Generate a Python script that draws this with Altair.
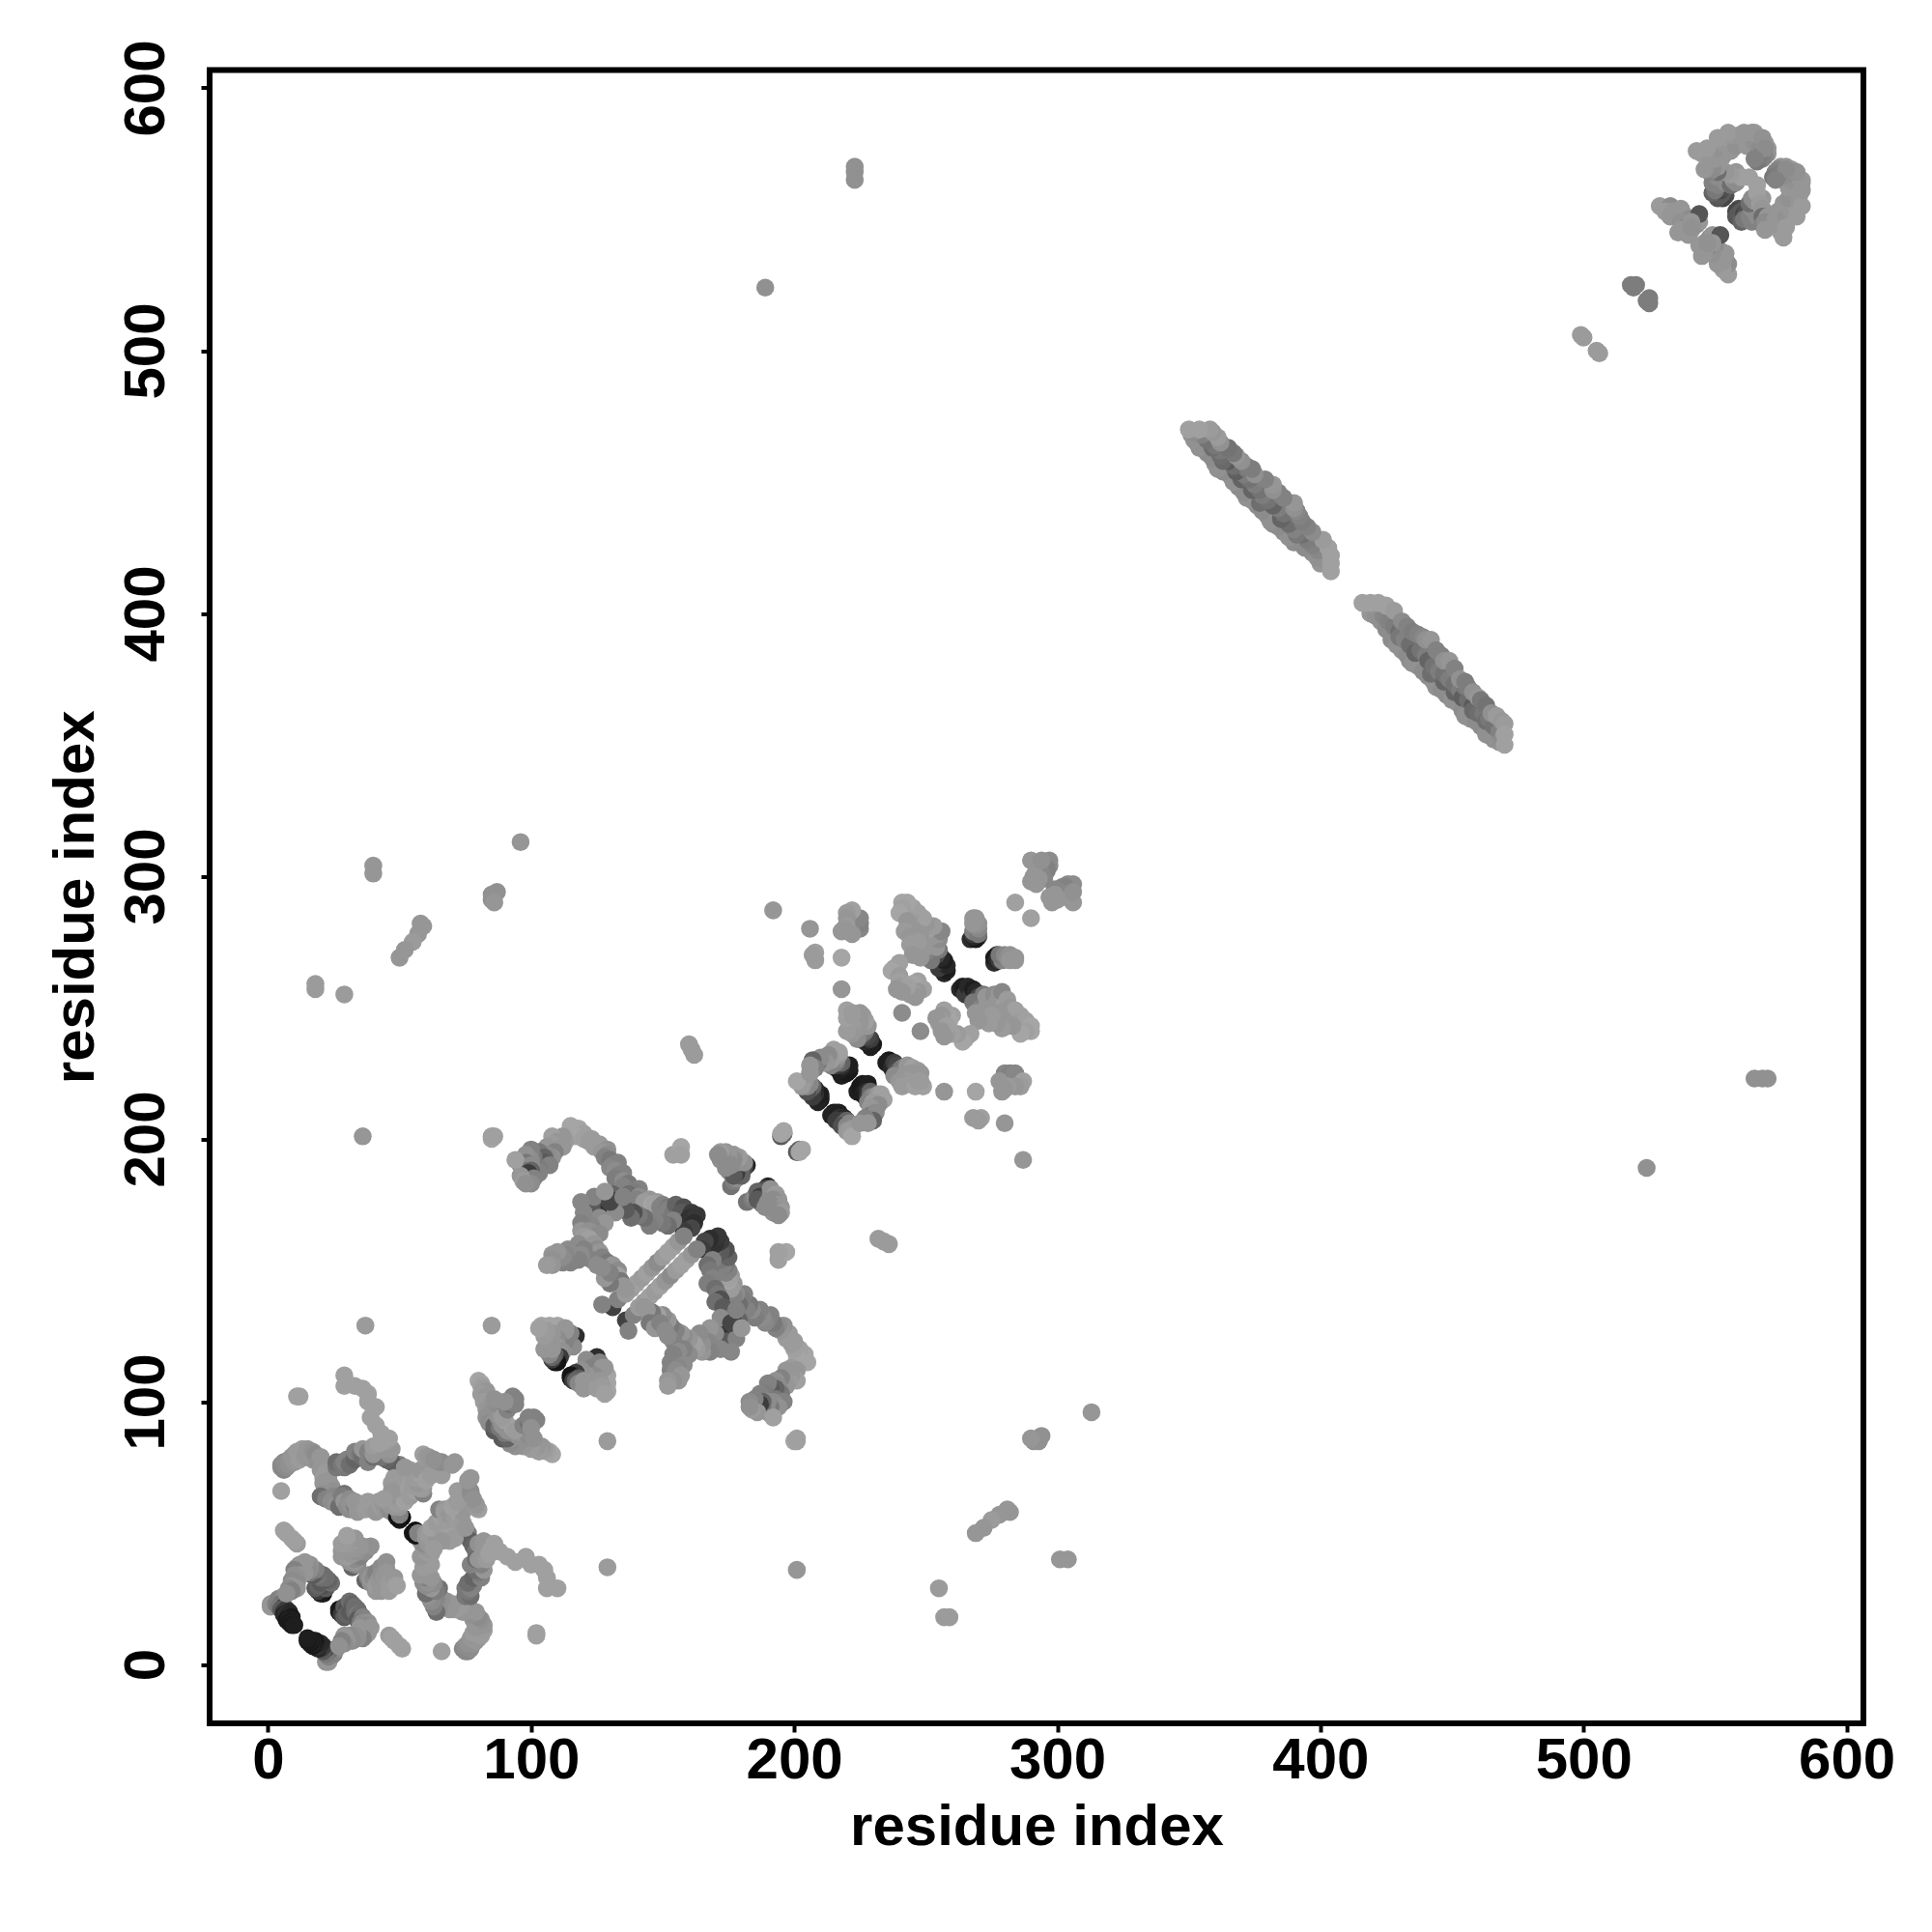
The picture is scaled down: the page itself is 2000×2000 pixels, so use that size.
import altair as alt
import pandas as pd

# contacts (residue i, residue j, gray level), i > j; the map is symmetric
corner_a = [(22,1,150),(23,1,150),(24,3,145),(23,2,150),(25,4,130),(26,6,140),(24,5,140),(23,3,130),(23,5,110),(22,4,120),(22,6,70),(21,5,90),(21,7,60),(20,6,60),(20,8,40),(19,6,40),(19,7,50),(19,8,40),(18,8,40),(18,9,25),(17,7,25),(17,8,35),(17,9,30),(16,8,25),(16,9,30),(15,9,25),(15,10,30)]
block_a2 = [(27,21,20),(27,20,30),(28,21,25),(29,20,30),(28,19,60),(29,18,90),(29,22,90),(30,21,80),(30,19,100),(31,20,90),(31,24,110),(32,23,100),(32,21,90),(33,22,110),(34,21,110),(33,20,110),(34,19,120),(35,19,110),(34,17,90),(36,18,130),(35,16,120),(36,16,140),(38,16,145),(36,14,150),(37,15,140),(39,14,150),(35,14,150),(37,13,150),(38,12,150),(37,11,150),(36,10,130),(34,12,150),(34,10,145),(33,11,145),(32,9,140),(31,11,140),(30,9,150),(29,11,150),(29,8,140),(28,9,130),(27,7,145)]
block_a3 = [(37,32,100),(38,33,130),(38,34,140),(39,31,145),(39,33,150),(40,33,140),(41,35,130),(41,28,150),(41,30,155),(42,32,150),(43,37,140),(43,30,150),(43,28,150),(43,34,145),(44,31,150),(44,33,150),(45,39,145),(45,36,145),(45,35,150),(46,31,155),(46,28,155),(46,34,150),(47,32,155),(48,33,150),(48,30,155),(49,30,160),(46,11,155),(47,10,160),(48,9,160),(50,7,160),(51,6,160),(66,5,160),(102,11,160),(102,12,160)]
ring_a = [(75,5,140),(74,6,135),(76,5,135),(75,7,140),(77,6,140),(77,7,140),(76,8,145),(78,8,145),(79,9,150),(77,10,150),(80,10,150),(78,12,155),(81,11,155),(82,13,155),(79,14,150),(82,15,150),(80,15,150),(81,17,145),(78,17,150),(80,18,140),(77,19,145),(79,20,150),(74,20,150),(77,21,150),(75,22,150),(73,22,155),(72,23,155),(71,21,155),(70,23,150),(69,21,150),(67,22,150),(68,24,150),(66,25,145),(65,21,145),(64,20,110),(63,22,130),(64,25,135),(62,24,140),(63,27,140),(61,26,145),(60,27,110),(65,29,115),(64,28,125),(62,29,150),(60,30,140),(59,31,140),(63,31,140),(61,31,145),(60,33,130),(62,33,150),(58,34,150),(61,35,150),(60,37,150),(59,37,155),(62,38,155),(60,40,155),(58,41,150),(62,42,155),(60,43,155),(61,44,150),(59,45,150),(58,47,145),(59,46,140)]
chain_a = [(75,26,120),(77,26,110),(76,28,120),(75,29,120),(77,29,130),(78,30,130),(76,31,110),(79,33,105),(78,33,100),(81,33,130),(80,35,120),(79,36,110),(82,36,150),(81,38,130),(77,38,130),(72,50,110),(73,51,100),(76,50,125),(75,49,90),(77,47,95),(78,45,100),(79,43,115),(79,40,110),(80,40,150),(83,40,155),(80,46,145),(82,47,150),(82,44,150),(84,42,160),(85,44,160),(86,46,160),(88,43,160),(91,41,160),(94,39,160),(98,41,160),(100,38,160),(103,38,160),(105,36,160),(106,33,160),(107,30,160),(106,29,160),(110,29,160)]
core_a = [(55,50,25),(56,49,20),(56,51,15),(56,50,20),(57,50,130),(60,48,150),(60,50,150),(62,47,155),(61,46,150),(61,49,155),(63,50,155),(64,49,150),(65,47,150),(62,52,160),(65,53,160),(66,51,160),(67,50,155),(68,53,160),(69,50,160),(70,51,160),(71,48,155),(69,47,155),(66,47,150),(63,44,155),(64,54,155),(67,55,155),(66,56,160),(68,55,155),(65,59,130),(67,59,150),(67,58,155),(69,57,150),(70,57,150),(71,56,155),(72,55,155),(73,57,160),(74,54,155),(75,52,150),(74,58,150),(70,60,160),(72,62,155),(72,66,155),(77,65,145),(77,66,140),(76,70,150),(77,71,150),(80,59,160),(79,60,155),(79,61,150),(78,63,145)]
block_b = [(108,80,165),(107,81,165),(106,81,160),(105,82,155),(104,83,150),(103,81,155),(102,83,150),(100,84,150),(100,82,155),(98,85,145),(97,83,150),(96,85,145),(94,85,150),(94,83,145),(92,84,140),(92,86,150),(90,86,140),(89,86,90),(91,86,100),(90,88,120),(93,88,130),(95,87,145),(97,88,150),(99,87,140),(101,86,145),(91,89,145),(93,90,160),(94,89,155),(97,91,130),(99,92,115),(101,94,130),(100,93,135),(102,93,130),(99,94,130),(100,90,145)]
block_c = [(125,117,45),(122,115,130),(121,116,140),(123,113,130),(125,112,125),(127,111,155),(126,115,130),(127,113,150),(129,110,165),(129,107,165),(129,104,165),(128,113,150),(124,108,150),(122,111,130),(124,110,140),(126,108,150),(121,110,150),(119,112,145),(118,111,150),(117,111,60),(116,110,50),(115,109,30),(115,110,20),(116,108,60),(118,109,90),(117,108,100),(118,107,135),(120,108,150),(120,105,150),(123,106,150),(125,105,155),(127,106,155),(128,103,160)]
outer_d = [(205,115,165),(204,118,165),(203,116,165),(202,120,160),(201,117,165),(200,120,160),(200,123,155),(199,122,155),(198,126,155),(197,124,155),(196,129,145),(195,127,150),(194,129,140),(193,128,130),(192,130,120),(191,133,130),(190,131,130),(189,130,135),(188,132,140),(187,135,130),(186,133,130),(185,132,125),(184,135,140),(183,137,120),(182,135,130),(181,141,130),(180,139,125),(179,137,110),(178,141,140),(177,140,130),(177,145,150),(176,143,155),(176,148,155),(175,146,165),(175,147,160),(175,150,130),(174,149,130),(174,152,120),(173,152,130),(172,154,120),(175,155,100),(174,158,80),(172,157,90),(172,161,60),(169,158,100),(170,160,50),(171,163,55),(168,162,45),(166,161,70),(165,158,60)]
diag_d = [(136,131,65),(137,127,130),(139,133,130),(141,136,155),(143,138,155),(145,140,160),(147,142,155),(149,144,160),(151,146,150),(153,148,140),(155,150,155),(157,152,160),(159,154,160),(161,156,150),(163,158,130)]
inner_d = [(169,154,130),(167,152,110),(168,150,120),(169,147,130),(167,145,125),(170,143,110),(171,141,120),(172,139,80),(170,138,110),(173,136,90),(175,134,90),(177,133,110),(179,131,100),(177,130,60),(175,128,50),(173,130,40),(172,127,40),(174,126,50),(175,124,50),(177,127,50),(178,127,70),(172,124,50),(171,122,90),(175,121,90),(174,123,90),(178,124,130),(170,126,140),(172,132,140),(176,130,70),(168,128,150),(180,128,150),(178,135,130),(167,123,135),(172,120,135),(176,119,135),(168,119,130),(165,119,150),(165,122,145),(164,126,140),(163,120,155),(162,122,160),(160,124,150),(160,118,140),(158,125,140),(157,126,150),(157,116,140),(155,127,130),(155,121,135),(154,123,130),(153,129,120),(152,131,150),(152,125,140),(150,133,140),(150,128,130),(148,133,160),(147,131,130),(146,134,120),(144,135,150),(143,136,150),(145,130,120),(147,128,150),(149,130,130),(151,127,140),(158,120,130),(156,119,140),(154,118,130),(153,115,130),(153,112,130),(158,114,140),(156,113,135),(155,112,140),(157,110,150),(156,108,150),(154,108,145),(152,108,150),(152,106,155)]
block_e = [(199,113,155),(201,112,150),(201,108,160),(199,110,150),(198,108,155),(197,112,150),(197,106,150),(195,109,130),(193,108,145),(194,106,140),(195,103,120),(193,105,100),(191,105,90),(190,107,130),(189,103,125),(187,103,130),(193,101,120),(196,100,130),(192,100,140),(194,98,145),(191,98,120),(190,100,140),(190,96,140),(188,97,120),(188,100,100),(187,99,60),(185,101,130),(183,100,140),(186,96,150),(184,97,155),(183,98,145),(192,94,160),(200,85,165),(201,85,160),(201,86,160)]
block_f = [(182,176,115),(184,177,125),(185,178,140),(187,176,140),(188,175,130),(190,182,35),(189,181,70),(188,180,90),(186,180,100),(189,178,70),(187,178,60),(186,177,90),(191,181,145),(191,178,145),(193,179,155),(194,177,150),(192,177,140),(194,175,150),(191,175,135),(195,174,150),(193,173,145),(195,172,155),(192,172,145),(194,171,140),(190,176,140),(189,174,140),(201,195,90),(202,196,100),(202,195,165),(203,196,165),(194,154,160),(197,157,165),(194,157,160),(232,162,155),(234,161,155),(236,160,155)]
block_h = [(215,210,25),(216,210,30),(216,209,25),(214,209,35),(217,210,30),(217,209,30),(218,208,40),(217,208,50),(219,208,40),(216,207,60),(218,207,60),(220,207,100),(219,206,100),(218,205,80),(221,206,135),(220,205,135),(222,204,150),(220,203,150),(221,203,155),(222,201,165),(224,218,30),(225,220,25),(226,221,25),(226,219,25),(228,221,30),(226,217,30),(227,218,35),(227,216,30),(228,218,50),(228,216,60),(229,218,100),(229,216,120),(230,216,140),(228,214,130),(231,215,150),(232,217,150),(233,217,160),(234,215,160),(230,214,155),(232,213,140),(229,212,150),(229,209,120),(231,210,140),(230,207,100),(227,208,130),(228,206,150),(225,206,150),(237,229,25),(236,230,25),(235,229,30),(237,227,40),(238,229,60),(239,228,70),(239,226,80),(240,226,110),(241,227,120),(241,225,130),(238,224,140),(243,228,150),(245,227,160),(247,226,155),(248,225,150),(244,225,150),(245,224,150),(242,224,150),(243,222,155),(240,222,150),(241,220,155),(244,221,155),(246,220,160),(247,222,155),(249,220,160),(248,222,155)]
block_i = [(263,257,40),(264,258,30),(265,257,25),(265,255,60),(266,258,40),(267,256,40),(267,254,60),(268,257,30),(269,256,40),(270,254,70),(270,252,110),(268,252,120),(271,250,130),(272,255,120),(273,254,150),(273,250,150),(275,253,150),(276,255,140),(276,250,150),(277,252,150),(278,255,150),(279,256,135),(280,251,160),(281,253,155),(282,250,150),(283,247,150),(284,249,160),(286,247,160),(285,244,155),(288,245,160),(287,243,160),(290,243,165),(290,241,165),(288,241,160),(286,240,165),(283,243,150),(281,243,150),(280,245,150),(279,242,155),(278,248,150),(277,244,150),(275,247,155),(274,244,155),(272,246,155),(270,245,150),(269,248,150),(267,240,160),(265,238,160),(264,237,165),(262,240,155),(260,240,160),(260,247,160),(259,245,165),(258,247,165),(258,240,155),(257,249,160),(256,247,150),(256,245,155),(255,244,155),(254,246,150),(258,243,160),(256,241,150),(257,239,150),(248,241,140)]
block_j = [(276,267,45),(277,270,60),(276,269,25),(277,268,40),(278,268,60),(279,268,130),(278,270,120),(280,270,135),(281,269,140),(282,270,145),(282,268,150),(284,268,150),(284,269,150),(290,284,160),(298,290,150),(300,291,150),(302,292,150),(304,294,145),(306,290,150),(306,297,140),(304,297,140),(305,296,140),(303,296,130),(302,296,130),(299,295,135),(301,294,135),(299,293,150),(297,292,150),(305,292,150),(306,294,145)]
block_k = [(280,225,135),(282,225,130),(284,225,135),(287,222,160),(286,220,155),(284,220,150),(281,220,155),(280,219,150),(279,218,150),(278,222,150),(257,218,150),(269,218,165),(271,208,160),(270,207,155),(268,208,155),(280,206,150),(287,192,150)]
band_low = [(419,400,150),(421,399,145),(423,397,145),(425,394,140),(427,390,140),(429,388,145),(431,386,145),(433,384,140),(434,382,140),(435,381,145),(437,380,145),(439,378,140),(441,376,140),(443,374,145),(444,372,145),(446,371,140),(448,369,140),(450,367,145),(452,366,145),(454,363,140),(455,361,145),(457,360,145),(459,359,140),(461,357,140),(463,354,145),(465,353,145),(466,352,145),(468,351,145)]
band_mid = [(424,399,135),(426,397,130),(428,395,125),(430,393,110),(430,391,120),(432,390,130),(434,388,110),(436,386,110),(436,385,100),(438,386,115),(440,384,125),(441,382,100),(442,377,110),(443,380,115),(445,378,125),(447,374,100),(447,377,115),(449,375,125),(451,370,100),(451,373,115),(453,371,125),(454,368,95),(455,372,120),(456,367,110),(458,365,90),(458,363,105),(460,362,110),(462,362,120),(463,359,110),(464,360,120),(466,357,115),(468,355,130),(469,352,140)]
band_top = [(416,404,160),(419,404,160),(422,404,160),(425,403,160),(428,401,155),(431,397,140),(433,395,130),(435,393,125),(437,392,130),(439,391,135),(440,390,145),(442,390,150),(444,386,130),(446,384,130),(447,382,145),(449,382,150),(451,379,130),(453,375,145),(455,374,125),(456,372,125),(458,370,145),(460,368,150),(461,367,120),(463,365,115),(465,362,145),(467,361,155),(469,359,150),(470,358,155),(470,354,160),(470,350,160)]
top_right = [(505,500,155),(506,499,155),(524,519,125),(525,518,125),(525,520,125),(555,529,155),(555,533,140),(553,531,155),(553,534,150),(551,533,150),(551,536,150),(554,537,150),(552,538,150),(550,540,140),(549,537,145),(547,539,130),(546,537,150),(545,536,150),(544,540,150),(546,541,150),(548,543,140),(549,544,150),(552,544,85),(549,541,150),(547,541,145),(559,554,80),(558,553,70),(560,553,90),(558,551,85),(559,552,90),(560,551,90),(560,549,100),(562,550,100),(561,552,70),(562,553,80),(561,550,120),(564,549,130),(563,551,130),(566,551,140),(565,554,130),(564,554,140),(563,556,110),(565,557,150),(564,558,140),(568,558,150),(566,560,160),(566,563,160),(567,556,155),(568,554,150),(568,551,110),(570,551,150),(568,548,130),(570,548,150),(569,549,140),(569,546,150),(575,545,155),(575,547,150),(573,550,150),(576,549,150),(574,553,150),(577,551,145),(576,556,150),(579,553,150),(581,555,155),(578,558,145),(582,556,150),(582,559,150),(578,562,150),(582,562,150),(583,565,155),(579,565,145),(581,567,150),(577,567,140),(579,569,155),(577,570,150),(575,570,150),(574,569,135),(573,568,130),(572,566,120),(574,567,125),(576,543,155),(577,547,155),(581,551,155),(583,555,155),(583,561,150),(583,564,150),(581,568,145),(577,569,140),(573,565,130)]
outliers = [(524,189,145),(565,223,145),(568,223,145),(570,223,145),(313,96,150),(291,85,145),(293,85,145),(294,87,145),(290,86,150),(301,40,150),(304,40,150),(282,58,150),(281,59,150),(278,57,150),(275,55,155),(272,52,150),(269,50,150),(255,29,155),(257,18,155),(259,18,155),(201,36,150),(129,37,155),(129,85,155)]

clusters = [corner_a, block_a2, block_a3, ring_a, chain_a, core_a, block_b, block_c, outer_d, diag_d, inner_d,
            block_e, block_f, block_h, block_i, block_j, block_k, band_low, band_mid, band_top, top_right, outliers]

rows = []
for c in clusters:
    for i, j, g in c:
        shade = "#{0:02x}{0:02x}{0:02x}".format(g)
        rows.append({"a": i, "b": j, "shade": shade})
        rows.append({"a": j, "b": i, "shade": shade})
df = pd.DataFrame(rows)

tick_values = [0, 100, 200, 300, 400, 500, 600]
FONT = "Liberation Sans"

x_axis = alt.Axis(values=tick_values, title="residue index", grid=False, domain=False,
                  tickSize=9, tickWidth=4, tickColor="black",
                  labelFont=FONT, labelFontWeight="bold", labelFontSize=60, labelColor="black",
                  labelPadding=0, titleFont=FONT, titleFontWeight="bold", titleFontSize=60,
                  titleColor="black", titlePadding=10, labelOverlap=False)
y_axis = alt.Axis(values=tick_values, title="residue index", grid=False, domain=False,
                  tickSize=9, tickWidth=4, tickColor="black",
                  labelFont=FONT, labelFontWeight="bold", labelFontSize=60, labelColor="black",
                  labelAngle=270, labelAlign="center", labelBaseline="bottom", labelPadding=26,
                  titleFont=FONT, titleFontWeight="bold", titleFontSize=60,
                  titleColor="black", titlePadding=12, labelOverlap=False)

chart = (
    alt.Chart(df)
    .mark_circle(size=345, opacity=1)
    .encode(
        x=alt.X("a:Q", scale=alt.Scale(domain=[-22.2, 606.4], nice=False, zero=False), axis=x_axis),
        y=alt.Y("b:Q", scale=alt.Scale(domain=[-22.4, 606.8], nice=False, zero=False), axis=y_axis),
        color=alt.Color("shade:N", scale=None),
        order=alt.Order("idx:Q"),
    )
    .transform_window(idx="row_number()")
    .properties(width=1712, height=1711.5, padding={"left": 40, "top": 32.5, "right": 2, "bottom": 10}, background="white")
    .configure_view(stroke="black", strokeWidth=6)
)

chart.save("out.html", embed_options={"renderer": "svg", "actions": False})
